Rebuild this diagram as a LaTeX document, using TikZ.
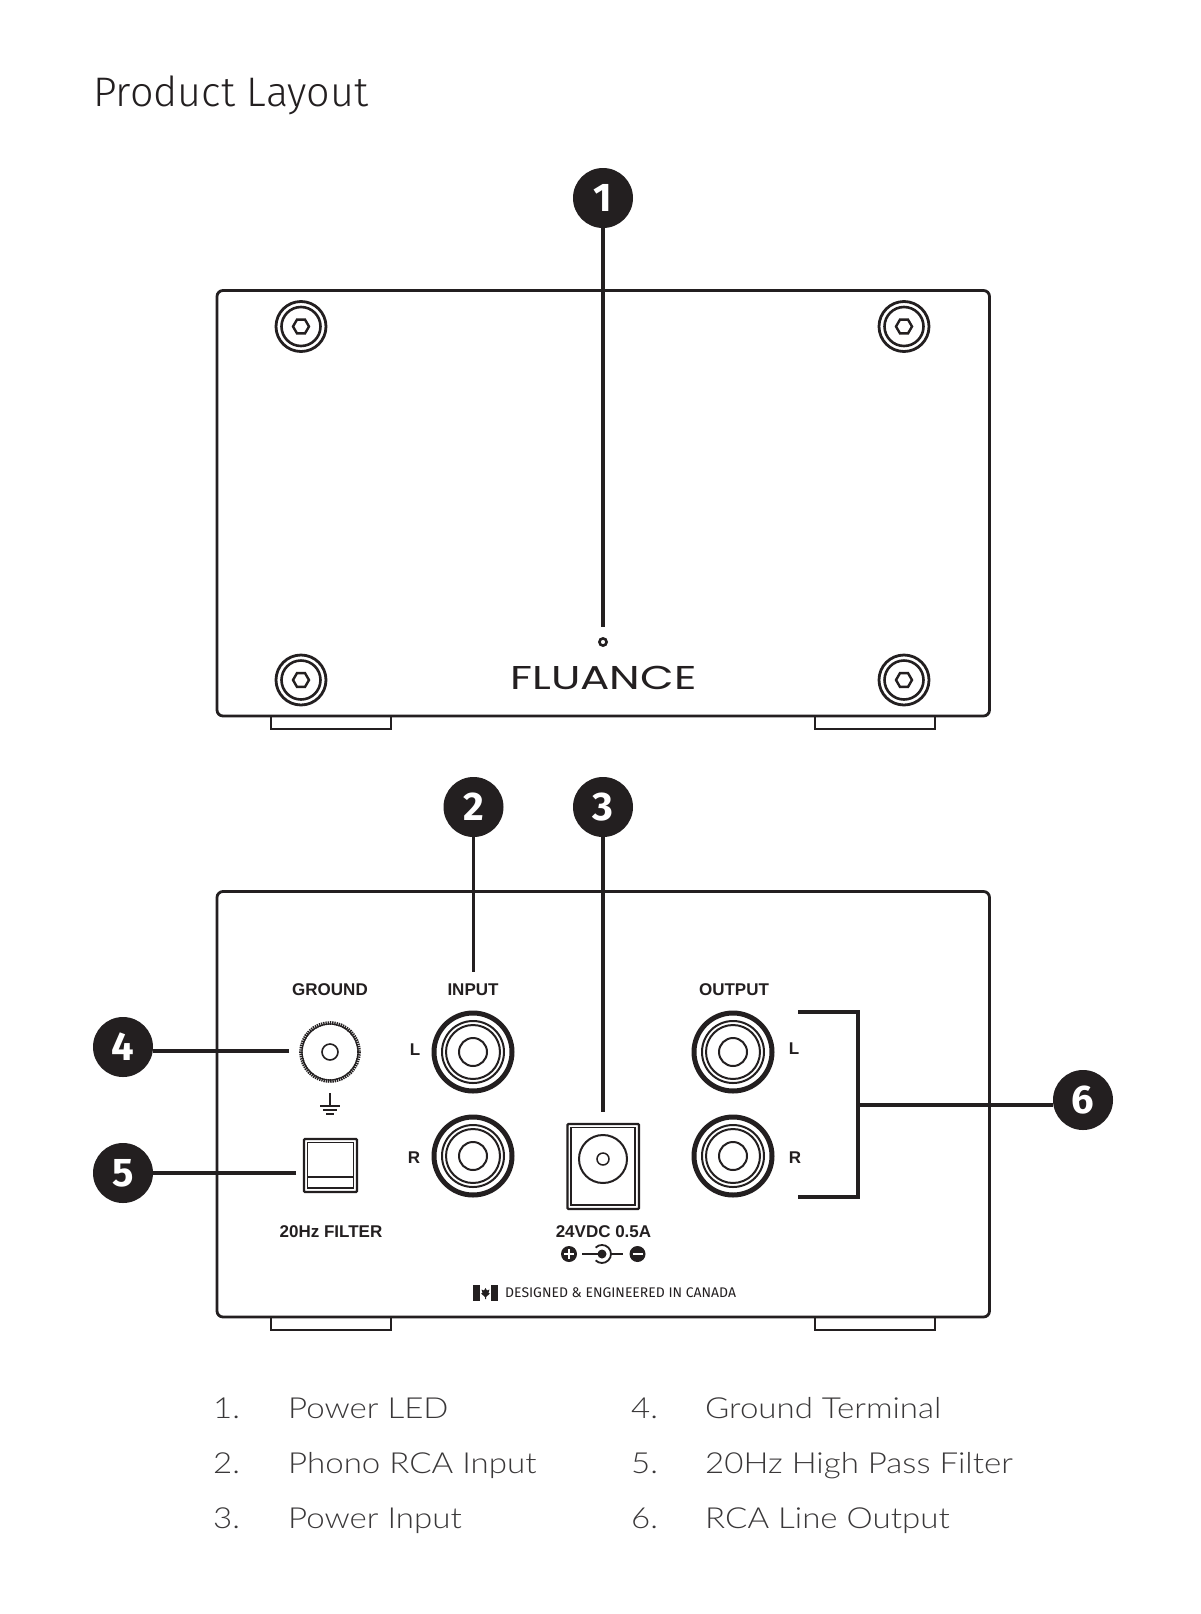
\documentclass[tikz,border=0pt]{standalone}
\usepackage{fontspec}
\usepackage{xcolor}
\setmainfont{Liberation Sans}
\newfontfamily\titlefont{Fira Sans Light}
\newfontfamily\listfont{Lato Light}[FakeStretch=1.14]
\newfontfamily\callfont{Fira Sans}
\newfontfamily\madefont{Fira Sans}
\newfontfamily\logofont{Poppins}[FakeStretch=1.32]
\definecolor{ink}{HTML}{231F20}
\definecolor{listgray}{HTML}{3A3839}
\tikzset{
    callout/.style={circle, fill=ink, text=white, minimum size=60pt, inner sep=0pt, font=\callfont\bfseries\fontsize{40}{41}\selectfont},
    leader/.style={ink, line width=3.4pt},
    hull/.style={ink, line width=2.8pt, rounded corners=6pt},
    foot/.style={ink, line width=2.2pt},
    tag/.style={text=ink, inner sep=0pt, font=\bfseries\fontsize{17}{20}\selectfont},
    entry/.style={text=listgray, inner sep=0pt, anchor=base west, font=\listfont\fontsize{29}{32}\selectfont},
}
\begin{document}
\begin{tikzpicture}[x=1pt,y=-1pt]
    \useasboundingbox (0,0) rectangle (1200,1614);
    \fill[white] (0,0) rectangle (1200,1614);
    % titre
    \node[text=ink, inner sep=0pt, anchor=base west, font=\titlefont\fontsize{41.3}{44}\selectfont] (title) at (93,106) {Product Layout};

    % face avant
    \draw[hull] (217,290.5) rectangle (989.5,716);
    \foreach \x in {271,815}{
        \draw[foot] (\x,717) -- (\x,729) -- (\x+120,729) -- (\x+120,717);
    }
    \foreach \x/\y in {301/326.5, 904/326.5, 301/680, 904/680}{
        \draw[ink, line width=2.8pt] (\x,\y) circle(25);
        \draw[ink, line width=2.6pt] (\x,\y) circle(19.5);
        \draw[ink, line width=2.4pt] (\x,\y) +(0:8) -- +(60:8) -- +(120:8) -- +(180:8) -- +(240:8) -- +(300:8) -- cycle;
    }
    \draw[ink, line width=2.6pt] (603,642) circle(3.6);
    \node[text=ink, inner sep=0pt, anchor=base, font=\logofont\fontsize{33}{36}\selectfont] (logo) at (603.5,689) {FLUANCE};

    % face arriere
    \draw[hull] (217,891.5) rectangle (989.5,1317);
    \foreach \x in {271,815}{
        \draw[foot] (\x,1318) -- (\x,1330) -- (\x+120,1330) -- (\x+120,1318);
    }

    % prise de terre
    \node[tag, anchor=base] (ground) at (330,995) {GROUND};
    \draw[ink, line width=3.6pt, dash pattern=on 1.3pt off 0.9pt] (330,1052) circle(29);
    \draw[ink, line width=1.2pt] (330,1052) circle(28);
    \draw[ink, line width=1.6pt] (330,1052) circle(8);
    \draw[ink, line width=1.6pt] (330,1093) -- (330,1106);
    \draw[ink, line width=1.6pt] (320,1106) -- (340,1106);
    \draw[ink, line width=1.6pt] (323,1110) -- (337,1110);
    \draw[ink, line width=1.6pt] (326,1114) -- (334,1114);

    % filtre
    \draw[ink, line width=2.2pt, rounded corners=1pt] (304,1139) rectangle (357,1192);
    \draw[ink, line width=1.5pt] (307.5,1142.5) rectangle (353.5,1188);
    \draw[ink, line width=1.5pt] (307.5,1177) -- (353.5,1177);
    \node[tag, anchor=base] (filter) at (331,1237) {20Hz FILTER};

    % prises RCA
    \foreach \x/\y in {473/1052, 473/1156, 733/1052, 733/1156}{
        \draw[ink, line width=5pt] (\x,\y) circle(39);
        \draw[ink, line width=2pt] (\x,\y) circle(31);
        \draw[ink, line width=2pt] (\x,\y) circle(27);
        \draw[ink, line width=2pt] (\x,\y) circle(14);
    }
    \node[tag, anchor=base] (input) at (473,995) {INPUT};
    \node[tag, anchor=base] (output) at (734,995) {OUTPUT};
    \node[tag, anchor=base] (inl) at (415,1055) {L};
    \node[tag, anchor=base] (inr) at (414,1163) {R};
    \node[tag, anchor=base] (outl) at (794,1054) {L};
    \node[tag, anchor=base] (outr) at (795,1163) {R};

    % alimentation
    \draw[ink, line width=2.2pt, rounded corners=1pt] (567.5,1124) rectangle (639,1209);
    \draw[ink, line width=1.5pt] (571,1127.5) rectangle (635,1205);
    \draw[ink, line width=2pt] (603,1159) circle(24);
    \draw[ink, line width=1.5pt] (603,1159) circle(6);
    \node[tag, anchor=base] (power) at (603.5,1237) {24VDC 0.5A};
    \fill[ink] (569,1254) circle(8);
    \draw[white, line width=1.6pt] (564,1254) -- (574,1254) (569,1249) -- (569,1259);
    \fill[ink] (637.5,1254) circle(8);
    \draw[white, line width=1.6pt] (632.5,1254) -- (642.5,1254);
    \fill[ink] (602,1254) circle(4.5);
    \draw[ink, line width=1.8pt] (582,1254) -- (602,1254);
    \draw[ink, line width=1.8pt] (611,1254) -- (623,1254);
    \draw[ink, line width=1.8pt] (595.6,1247.6) arc[start angle=-135, end angle=135, radius=9];

    % drapeau
    \fill[ink] (473,1285) rectangle (480,1301);
    \fill[ink] (491,1285) rectangle (498,1301);
    \fill[ink] (485.5,1288) -- (487,1290.5) -- (489.5,1289.5) -- (488.5,1293) -- (490,1293.5) -- (486,1297) -- (486,1299) -- (485,1299) -- (485,1297) -- (481,1293.5) -- (482.5,1293) -- (481.5,1289.5) -- (484,1290.5) -- cycle;
    \node[text=ink, inner sep=0pt, anchor=base west, font=\madefont\fontsize{13.95}{16}\selectfont] (made) at (505,1297) {DESIGNED \& ENGINEERED IN CANADA};

    % reperes
    \node[callout] (one) at (603,198) {1};
    \node[callout] (two) at (473.5,807) {2};
    \node[callout] (three) at (603,807) {3};
    \node[callout] (four) at (123,1047) {4};
    \node[callout] (five) at (123,1173) {5};
    \node[callout] (six) at (1083,1100) {6};
    \coordinate (ledtip) at (603,627);
    \coordinate (inputtip) at (473.5,972);
    \coordinate (powertip) at (603,1112);
    \coordinate (groundtip) at (289,1051);
    \coordinate (filtertip) at (296,1173);
    \coordinate (brackup) at (798,1012);
    \coordinate (brackdown) at (798,1197);
    \coordinate (brackmid) at (858,1105);
    \draw[leader] (one) -- (ledtip);
    \draw[leader] (two) -- (inputtip);
    \draw[leader] (three) -- (powertip);
    \draw[leader] (groundtip) -- (four.east |- groundtip);
    \draw[leader] (filtertip) -- (five);
    \draw[leader, line width=3.6pt] (brackup) -- (brackup -| brackmid) -- (brackdown -| brackmid) -- (brackdown);
    \draw[leader] (brackmid) -- (six.west |- brackmid);

    % legende
    \foreach \num/\label/\y in {1./Power LED/1418, 2./Phono RCA Input/1473, 3./Power Input/1528}{
        \node[entry] at (213,\y) {\num};
        \node[entry] at (288,\y) {\label};
    }
    \foreach \num/\label/\y in {4./Ground Terminal/1418, 5./20Hz High Pass Filter/1473, 6./RCA Line Output/1528}{
        \node[entry] at (631,\y) {\num};
        \node[entry] at (705,\y) {\label};
    }
\end{tikzpicture}
\end{document}
